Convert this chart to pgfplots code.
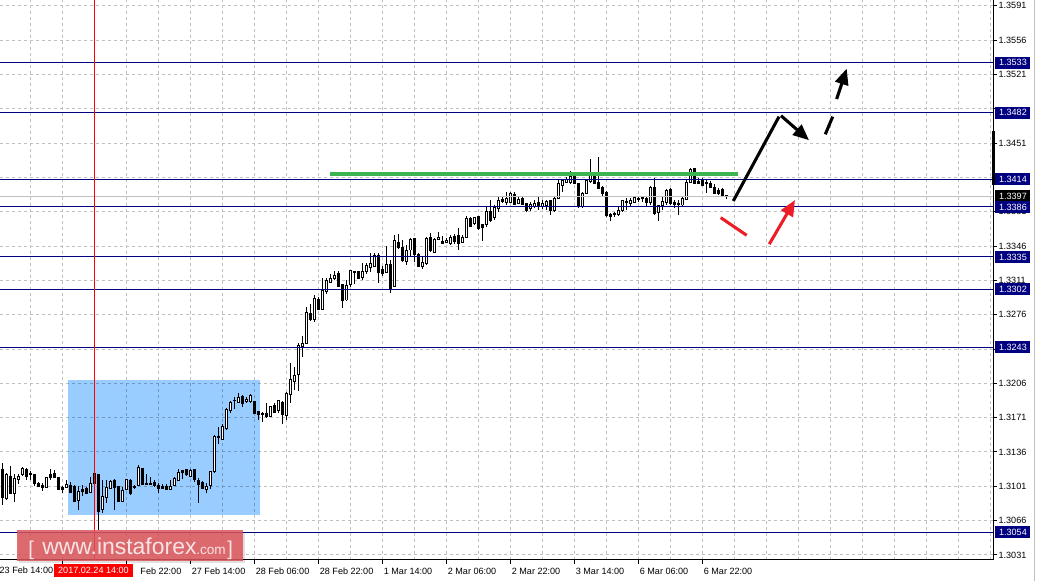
\documentclass[border=0pt]{standalone}
\usepackage{pgfplots}
\pgfplotsset{compat=1.18}
\usepackage{pgfplotstable}
\usepackage{fontspec}
\setmainfont{Liberation Sans}
\usetikzlibrary{arrows.meta}

\definecolor{lvl}{RGB}{0,0,128}
\definecolor{gridgray}{RGB}{192,192,192}
\definecolor{zone}{RGB}{153,204,255}
\definecolor{trend}{RGB}{60,180,80}
\definecolor{arrred}{RGB}{235,30,40}
\definecolor{wmred}{RGB}{220,85,90}
\definecolor{wmtext}{RGB}{248,228,228}

% hourly candles, USD/CAD (i = bar number)
\pgfplotstableread{
i o h l c
0 1.3118 1.3125 1.3082 1.3090
1 1.3089 1.3115 1.3087 1.3113
2 1.3111 1.3122 1.3093 1.3094
3 1.3094 1.3114 1.3085 1.3109
4 1.3108 1.3114 1.3103 1.3111
5 1.3113 1.3121 1.3111 1.3119
6 1.3118 1.3120 1.3108 1.3111
7 1.3114 1.3117 1.3107 1.3113
8 1.3113 1.3114 1.3101 1.3104
9 1.3104 1.3105 1.3100 1.3101
10 1.3102 1.3104 1.3096 1.3100
11 1.3100 1.3110 1.3100 1.3110
12 1.3113 1.3119 1.3107 1.3110
13 1.3114 1.3118 1.3110 1.3110
14 1.3110 1.3110 1.3098 1.3098
15 1.3100 1.3101 1.3094 1.3098
16 1.3100 1.3107 1.3100 1.3103
17 1.3102 1.3105 1.3094 1.3095
18 1.3101 1.3102 1.3085 1.3085
19 1.3086 1.3101 1.3077 1.3096
20 1.3098 1.3102 1.3091 1.3096
21 1.3099 1.3100 1.3094 1.3094
22 1.3095 1.3110 1.3094 1.3104
23 1.3114 1.3114 1.3099 1.3104
24 1.3113 1.3114 1.3056 1.3075
25 1.3077 1.3107 1.3074 1.3091
26 1.3090 1.3107 1.3084 1.3100
27 1.3099 1.3107 1.3099 1.3106
28 1.3107 1.3108 1.3077 1.3100
29 1.3101 1.3101 1.3085 1.3085
30 1.3086 1.3100 1.3086 1.3097
31 1.3098 1.3109 1.3097 1.3108
32 1.3107 1.3108 1.3092 1.3094
33 1.3101 1.3102 1.3098 1.3100
34 1.3102 1.3123 1.3101 1.3120
35 1.3119 1.3120 1.3103 1.3103
36 1.3104 1.3114 1.3103 1.3103
37 1.3104 1.3110 1.3102 1.3103
38 1.3105 1.3107 1.3100 1.3102
39 1.3102 1.3104 1.3094 1.3099
40 1.3101 1.3103 1.3098 1.3099
41 1.3101 1.3103 1.3098 1.3098
42 1.3098 1.3107 1.3097 1.3101
43 1.3102 1.3110 1.3101 1.3109
44 1.3107 1.3119 1.3107 1.3115
45 1.3117 1.3118 1.3108 1.3115
46 1.3118 1.3119 1.3111 1.3113
47 1.3111 1.3119 1.3110 1.3117
48 1.3118 1.3119 1.3105 1.3108
49 1.3107 1.3109 1.3084 1.3103
50 1.3105 1.3106 1.3098 1.3099
51 1.3098 1.3104 1.3094 1.3101
52 1.3102 1.3117 1.3098 1.3116
53 1.3116 1.3153 1.3115 1.3152
54 1.3152 1.3161 1.3144 1.3151
55 1.3149 1.3165 1.3148 1.3162
56 1.3160 1.3181 1.3159 1.3179
57 1.3178 1.3188 1.3176 1.3187
58 1.3189 1.3192 1.3180 1.3188
59 1.3187 1.3196 1.3186 1.3192
60 1.3193 1.3194 1.3182 1.3186
61 1.3187 1.3192 1.3186 1.3190
62 1.3187 1.3195 1.3186 1.3194
63 1.3187 1.3188 1.3175 1.3175
64 1.3177 1.3178 1.3169 1.3174
65 1.3175 1.3177 1.3167 1.3174
66 1.3175 1.3186 1.3171 1.3172
67 1.3172 1.3183 1.3172 1.3182
68 1.3183 1.3186 1.3176 1.3176
69 1.3178 1.3189 1.3176 1.3188
70 1.3187 1.3188 1.3165 1.3174
71 1.3173 1.3197 1.3169 1.3196
72 1.3195 1.3227 1.3186 1.3210
73 1.3208 1.3223 1.3199 1.3214
74 1.3215 1.3247 1.3198 1.3245
75 1.3244 1.3254 1.3233 1.3247
76 1.3247 1.3284 1.3246 1.3278
77 1.3277 1.3287 1.3270 1.3271
78 1.3271 1.3296 1.3269 1.3293
79 1.3292 1.3294 1.3281 1.3281
80 1.3281 1.3314 1.3281 1.3301
81 1.3300 1.3314 1.3297 1.3311
82 1.3309 1.3318 1.3308 1.3313
83 1.3313 1.3321 1.3311 1.3316
84 1.3318 1.3321 1.3304 1.3305
85 1.3307 1.3307 1.3283 1.3290
86 1.3291 1.3311 1.3290 1.3306
87 1.3307 1.3322 1.3304 1.3321
88 1.3319 1.3321 1.3307 1.3320
89 1.3320 1.3320 1.3313 1.3313
90 1.3314 1.3329 1.3311 1.3320
91 1.3320 1.3329 1.3318 1.3326
92 1.3324 1.3339 1.3320 1.3328
93 1.3325 1.3339 1.3325 1.3336
94 1.3336 1.3339 1.3308 1.3319
95 1.3322 1.3326 1.3315 1.3318
96 1.3319 1.3346 1.3319 1.3327
97 1.3327 1.3332 1.3298 1.3303
98 1.3305 1.3357 1.3305 1.3352
99 1.3350 1.3358 1.3343 1.3345
100 1.3345 1.3352 1.3330 1.3331
101 1.3330 1.3347 1.3327 1.3342
102 1.3342 1.3354 1.3335 1.3353
103 1.3354 1.3354 1.3330 1.3337
104 1.3337 1.3339 1.3325 1.3325
105 1.3325 1.3335 1.3323 1.3329
106 1.3328 1.3355 1.3327 1.3354
107 1.3355 1.3359 1.3340 1.3341
108 1.3340 1.3354 1.3340 1.3353
109 1.3353 1.3360 1.3352 1.3355
110 1.3351 1.3356 1.3348 1.3349
111 1.3350 1.3354 1.3349 1.3352
112 1.3349 1.3357 1.3347 1.3355
113 1.3356 1.3358 1.3348 1.3351
114 1.3357 1.3365 1.3342 1.3349
115 1.3350 1.3357 1.3349 1.3355
116 1.3355 1.3377 1.3355 1.3374
117 1.3374 1.3376 1.3366 1.3366
118 1.3369 1.3376 1.3368 1.3375
119 1.3376 1.3376 1.3363 1.3364
120 1.3368 1.3369 1.3351 1.3365
121 1.3368 1.3386 1.3366 1.3381
122 1.3381 1.3393 1.3371 1.3372
123 1.3375 1.3388 1.3373 1.3385
124 1.3384 1.3397 1.3381 1.3393
125 1.3394 1.3396 1.3390 1.3391
126 1.3390 1.3401 1.3388 1.3395
127 1.3391 1.3401 1.3390 1.3400
128 1.3399 1.3401 1.3388 1.3388
129 1.3390 1.3396 1.3389 1.3394
130 1.3395 1.3396 1.3388 1.3389
131 1.3389 1.3390 1.3381 1.3382
132 1.3384 1.3391 1.3382 1.3388
133 1.3386 1.3393 1.3385 1.3390
134 1.3391 1.3396 1.3383 1.3386
135 1.3386 1.3393 1.3384 1.3390
136 1.3387 1.3393 1.3383 1.3391
137 1.3392 1.3393 1.3378 1.3382
138 1.3382 1.3396 1.3381 1.3395
139 1.3395 1.3413 1.3394 1.3410
140 1.3408 1.3415 1.3401 1.3413
141 1.3411 1.3416 1.3410 1.3414
142 1.3411 1.3423 1.3409 1.3417
143 1.3417 1.3422 1.3409 1.3410
144 1.3410 1.3410 1.3385 1.3386
145 1.3386 1.3401 1.3385 1.3400
146 1.3400 1.3414 1.3400 1.3413
147 1.3412 1.3435 1.3410 1.3421
148 1.3421 1.3422 1.3409 1.3410
149 1.3411 1.3437 1.3404 1.3405
150 1.3406 1.3407 1.3396 1.3400
151 1.3401 1.3402 1.3376 1.3377
152 1.3378 1.3380 1.3372 1.3376
153 1.3379 1.3381 1.3376 1.3378
154 1.3378 1.3386 1.3377 1.3382
155 1.3382 1.3393 1.3381 1.3392
156 1.3392 1.3395 1.3383 1.3391
157 1.3390 1.3395 1.3386 1.3393
158 1.3391 1.3397 1.3390 1.3396
159 1.3395 1.3397 1.3391 1.3394
160 1.3396 1.3397 1.3391 1.3395
161 1.3395 1.3396 1.3386 1.3390
162 1.3390 1.3407 1.3388 1.3406
163 1.3406 1.3415 1.3378 1.3379
164 1.3380 1.3388 1.3372 1.3387
165 1.3387 1.3396 1.3383 1.3392
166 1.3390 1.3404 1.3388 1.3403
167 1.3404 1.3405 1.3388 1.3389
168 1.3390 1.3393 1.3385 1.3388
169 1.3390 1.3393 1.3378 1.3389
170 1.3388 1.3396 1.3386 1.3395
171 1.3394 1.3413 1.3393 1.3411
172 1.3411 1.3426 1.3410 1.3424
173 1.3425 1.3426 1.3409 1.3410
174 1.3412 1.3415 1.3410 1.3410
175 1.3414 1.3415 1.3407 1.3408
176 1.3411 1.3414 1.3400 1.3410
177 1.3410 1.3412 1.3406 1.3406
178 1.3406 1.3409 1.3400 1.3400
179 1.3403 1.3405 1.3398 1.3400
180 1.3404 1.3405 1.3397 1.3398
181 1.3398 1.3398 1.3394 1.3397
}\candles

\begin{document}
\begin{tikzpicture}
\useasboundingbox (0,0) rectangle (778.5pt,435.75pt);
\begin{axis}[
  at={(0pt,15.75pt)}, anchor=south west,
  scale only axis, width=744.75pt, height=420pt,
  xmin=-0.5825, xmax=247.67, ymin=1.30258, ymax=1.3597,
  axis x line*=bottom, axis y line*=right,
  axis line style={black, line width=0.75pt},
  tick align=outside, major tick length=3pt, minor tick length=0pt,
  tick style={black, line width=0.75pt},
  scaled y ticks=false,
  xtick={15.07,31.07,47.07,63.07,79.07,95.07,111.07,127.07,143.07,159.07,175.07},
  xticklabels={,\phantom{24 }Feb 22:00,27 Feb 14:00,28 Feb 06:00,28 Feb 22:00,1 Mar 14:00,2 Mar 06:00,2 Mar 22:00,3 Mar 14:00,6 Mar 06:00,6 Mar 22:00},
  minor xtick={7.07,23.07,39.07,55.07,71.07,87.07,103.07,119.07,135.07,151.07,167.07,183.07,191.07,199.07,207.07,215.07,223.07,231.07,239.07,247.07},
  ytick={1.3031,1.3066,1.3101,1.3136,1.3171,1.3206,1.3241,1.3276,1.3311,1.3346,1.3381,1.3416,1.3451,1.3486,1.3521,1.3556,1.3591},
  yticklabels={1.3031,1.3066,1.3101,1.3136,1.3171,1.3206,,1.3276,1.3311,1.3346,1.3381,,1.3451,,1.3521,1.3556,1.3591},
  grid=both,
  major grid style={gridgray, line width=0.75pt, dash pattern=on 2.25pt off 2.25pt},
  minor grid style={gridgray, line width=0.75pt, dash pattern=on 2.25pt off 2.25pt},
  tick label style={font=\fontsize{6.8}{8}\selectfont},
  xticklabel style={anchor=north west, inner sep=0pt, xshift=0.75pt, yshift=-3pt},
  yticklabel style={anchor=west, inner sep=0pt, xshift=1pt},
]
% zone box
\fill[zone, blend mode=multiply] (axis cs:16.54,1.3072) rectangle (axis cs:64.54,1.3209);

% wicks
\addplot[draw=none, mark=none, forget plot,
  error bars/.cd, y dir=both, y explicit, error mark=none,
  error bar style={draw=black, line width=0.75pt}]
  table[x=i, y expr={(\thisrow{h}+\thisrow{l})/2}, y error expr={(\thisrow{h}-\thisrow{l})/2}] {\candles};
% bodies (black outline)
\addplot[draw=none, mark=none, forget plot,
  error bars/.cd, y dir=both, y explicit, error mark=none,
  error bar style={draw=black, line width=2.25pt}]
  table[x=i, y expr={(\thisrow{o}+\thisrow{c})/2}, y error expr={abs(\thisrow{c}-\thisrow{o})/2+0.00005}] {\candles};
% white inside of rising candles
\addplot[draw=none, mark=none, forget plot,
  error bars/.cd, y dir=both, y explicit, error mark=none,
  error bar style={draw=white, line width=0.75pt}]
  table[x=i, y expr={(\thisrow{o}+\thisrow{c})/2}, y error expr={\thisrow{c}>\thisrow{o} ? (\thisrow{c}-\thisrow{o})/2-0.00005 : 0}] {\candles};

% levels
\addplot[gridgray, line width=0.75pt, forget plot] coordinates {(-0.5825,1.3397) (247.67,1.3397)};
\pgfplotsinvokeforeach{1.3533,1.3482,1.3414,1.3386,1.3335,1.3302,1.3243,1.3054}{
  \addplot[lvl, line width=0.75pt, forget plot] coordinates {(-0.5825,#1) (247.67,#1)};
}
\draw[red, line width=0.75pt] (axis cs:23.04,1.30258) -- (axis cs:23.04,1.3597);
\addplot[trend, line width=2.6pt, forget plot] coordinates {(81.92,1.34195) (183.92,1.34195)};

% forecast arrows
\draw[black, line width=2.3pt] (axis cs:182.74,1.3392) -- (axis cs:194.17,1.3478);
\draw[black, line width=2.3pt, -{Triangle[length=12pt,width=10pt]}] (axis cs:194.67,1.3479) -- (axis cs:201.67,1.3454);
\draw[black, line width=2.3pt] (axis cs:205.74,1.3460) -- (axis cs:207.59,1.3478);
\draw[black, line width=2.3pt, -{Triangle[length=12pt,width=10pt]}] (axis cs:208.59,1.3496) -- (axis cs:211.09,1.3527);
\draw[arrred, line width=2.3pt] (axis cs:179.59,1.3375) -- (axis cs:186.09,1.3357);
\draw[arrred, line width=2.3pt, -{Triangle[length=12pt,width=10pt]}] (axis cs:191.74,1.3348) -- (axis cs:198.17,1.3393);
\end{axis}

% price boxes, watermark and cursor time, in pixels of the screenshot
\begin{scope}[shift={(0pt,435.75pt)}, x=0.75pt, y=-0.75pt, font=\fontsize{6.8}{8}\selectfont]
  \fill[black] (992,131) rectangle (995,185);
  \draw[gray!50, line width=0.75pt] (1034,0) -- (1034,581);
  \fill[black] (995,190.1) rectangle (1030,202.1);
  \node[white, anchor=west, inner sep=0pt] at (998.8,196.1) {1.3397};
  \foreach \yy/\tt in {62.7/1.3533,112.7/1.3482,179.4/1.3414,206.9/1.3386,256.9/1.3335,289.2/1.3302,347.1/1.3243,532.4/1.3054}{
    \fill[lvl] (995,\yy-6) rectangle (1030,\yy+6);
    \node[white, anchor=west, inner sep=0pt] at (998.8,\yy) {\tt};
  }
  \node[anchor=west, inner sep=0pt] at (-0.6,570.5) {23 Feb 14:00};
  \fill[red] (54,564) rectangle (133,577);
  \node[white, inner sep=0pt] at (93.5,570.5) {2017.02.24 14:00};
  \fill[black, opacity=0.12] (19,532) rectangle (245,563);
  \fill[wmred, opacity=0.85] (17,530) rectangle (243,561);
  \node[wmtext, anchor=base west, inner sep=0pt, font=\fontsize{15}{17}\selectfont] at (28,556) {[};
  \node[wmtext, anchor=base west, inner sep=0pt, font=\fontsize{17.2}{19}\selectfont] at (42,555) {www.instaforex};
  \node[wmtext, anchor=base west, inner sep=0pt, font=\fontsize{10.2}{12}\selectfont] at (196,555) {.com};
  \node[wmtext, anchor=base west, inner sep=0pt, font=\fontsize{15}{17}\selectfont] at (227,556) {]};
\end{scope}
\end{tikzpicture}
\end{document}
